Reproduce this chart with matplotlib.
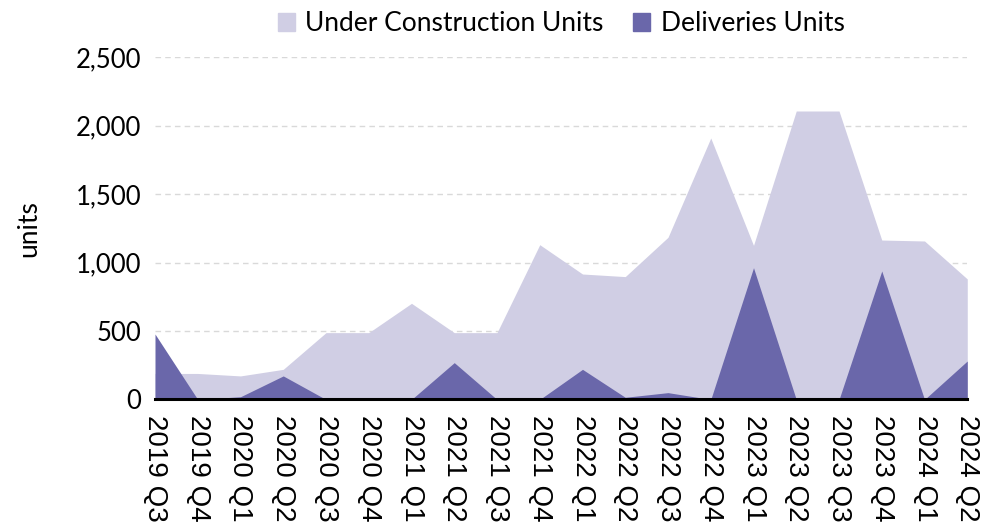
import matplotlib
matplotlib.use("Agg")
import matplotlib.pyplot as plt
from matplotlib.patches import Patch
from matplotlib.ticker import FuncFormatter

# Datos
quarters = ["2019 Q3", "2019 Q4", "2020 Q1", "2020 Q2", "2020 Q3", "2020 Q4",
            "2021 Q1", "2021 Q2", "2021 Q3", "2021 Q4", "2022 Q1", "2022 Q2",
            "2022 Q3", "2022 Q4", "2023 Q1", "2023 Q2", "2023 Q3", "2023 Q4",
            "2024 Q1", "2024 Q2"]
under_construction = [190, 190, 172, 220, 488, 488, 702, 488, 488, 1130,
                      916, 897, 1184, 1909, 1125, 2106, 2106, 1164, 1157, 880]
deliveries = [478, 0, 20, 172, 0, 0, 0, 269, 0, 0,
              220, 16, 50, 0, 962, 0, 0, 938, 0, 281]

light = "#d0cee4"
dark = "#6a67aa"
calibri_like = ["Lato", "DejaVu Sans"]

x = range(len(quarters))

fig = plt.figure(figsize=(9.81, 5.28), dpi=100)
ax = fig.add_axes([0.158, 0.2434, 0.828, 0.6486])

ax.fill_between(x, under_construction, color=light, linewidth=0, zorder=2)
ax.fill_between(x, deliveries, color=dark, linewidth=0, zorder=3)

ax.set_xlim(0, len(quarters) - 1)
ax.set_ylim(0, 2500)
ax.set_yticks([0, 500, 1000, 1500, 2000, 2500])
ax.yaxis.set_major_formatter(FuncFormatter(lambda v, p: f"{int(v):,}"))
ax.set_xticks(list(x))
ax.set_xticklabels(quarters, rotation=-90, family="Liberation Sans", fontsize=20)
for lbl in ax.get_yticklabels():
    lbl.set_family(calibri_like)
    lbl.set_fontsize(18.5)
ax.tick_params(length=0, pad=10)
ax.tick_params(axis="x", pad=11)

ax.grid(axis="y", color="#d9d9d9", linestyle=(0, (4, 3)), linewidth=1, zorder=0)
for s in ["top", "right", "left"]:
    ax.spines[s].set_visible(False)
ax.spines["bottom"].set_linewidth(2.2)
ax.spines["bottom"].set_zorder(5)

ax.set_ylabel("units", family=calibri_like, fontsize=19, labelpad=25)

handles = [Patch(color=light, label="Under Construction Units"),
           Patch(color=dark, label="Deliveries Units")]
fig.legend(handles=handles, loc="center", bbox_to_anchor=(0.572, 0.955), ncol=2,
           frameon=False, prop={"family": calibri_like, "size": 19},
           handlelength=0.65, handleheight=0.65, handletextpad=0.4, columnspacing=1.1)

fig.savefig("out.png", dpi=100)
